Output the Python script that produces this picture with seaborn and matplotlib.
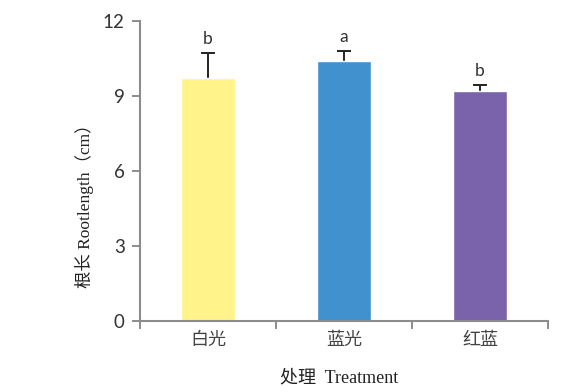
import matplotlib
matplotlib.use('Agg')
import matplotlib.pyplot as plt
import seaborn as sns
import pandas as pd

treatments = ['白光', '蓝光', '红蓝']
root_length = [9.72, 10.41, 9.19]
upper_err = [1.01, 0.40, 0.24]
letters = ['b', 'a', 'b']
bar_colors = ['#FFF38A', '#4091CE', '#7A63AA']
y_ticks = [0, 3, 6, 9, 12]

sns.set_style('white')
plt.rcParams['font.family'] = ['Lato', 'Noto Sans CJK SC']

df = pd.DataFrame({'Treatment': treatments, 'Rootlength': root_length})

fig = plt.figure(figsize=(5.81, 3.92), dpi=100)
ax = fig.add_axes([0.241, 0.181, 0.702, 0.765])

sns.barplot(data=df, x='Treatment', y='Rootlength', hue='Treatment',
            palette=bar_colors, width=0.4, saturation=1, ax=ax, legend=False)
for p in ax.patches:
    p.set_zorder(3)
# only the upper half of the error bar
eb = ax.errorbar(range(len(treatments)), root_length,
                 yerr=[[0] * len(treatments), upper_err],
                 fmt='none', ecolor='#222222', elinewidth=1.4, capsize=5,
                 capthick=1.4, zorder=2)
eb[1][0].set_visible(False)

for i, (v, e, l) in enumerate(zip(root_length, upper_err, letters)):
    ax.text(i, v + e + 0.25, l, ha='center', va='bottom', fontsize=12.5,
            color='#333333')

ax.set_xlim(-0.5, 2.5)
ax.set_ylim(0, 12)
ax.set_yticks(y_ticks)
ax.set_yticklabels([str(t) for t in y_ticks], fontsize=13.5, color='#333333')

ax.set_xticks([-0.5, 0.5, 1.5, 2.5])
ax.set_xticklabels([])
ax.set_xticks(range(len(treatments)), minor=True)
ax.set_xticklabels(treatments, minor=True, fontsize=13, color='#444444',
                   family=['Noto Sans CJK SC'])
ax.tick_params(axis='x', which='major', length=6, width=1.4, color='#8C8C8C',
               direction='out', bottom=True)
ax.tick_params(axis='x', which='minor', length=0, pad=7)
ax.tick_params(axis='y', length=6, width=1.4, color='#8C8C8C',
               direction='out', left=True, pad=5)

sns.despine(ax=ax)
for s in ['left', 'bottom']:
    ax.spines[s].set_color('#8C8C8C')
    ax.spines[s].set_linewidth(1.5)
    ax.spines[s].set_zorder(4)

ax.set_xlabel('')
ax.set_ylabel('')
fig.text(0.584, 0.035, '处理  Treatment', ha='center', va='center',
         fontsize=13, color='#222222',
         family=['Liberation Serif', 'Noto Sans CJK SC'])
fig.text(0.146, 0.485, '根长 Rootlength（cm）', ha='center', va='center',
         rotation=90, fontsize=12.5, color='#222222',
         family=['Liberation Serif', 'Noto Sans CJK SC'])

fig.savefig('out.png', dpi=100)
